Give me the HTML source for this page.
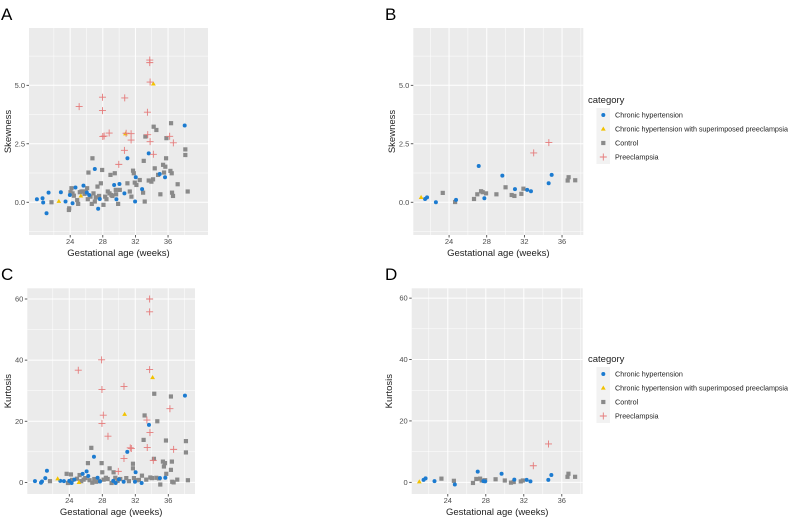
<!DOCTYPE html>
<html><head><meta charset="utf-8"><style>
body{margin:0;background:#fff;}
svg text{font-family:"Liberation Sans",Arial,sans-serif;}
</style></head><body>
<svg id="fig" width="789" height="519" xmlns="http://www.w3.org/2000/svg"></svg>
<script>
// ---- data (weeks, value) ----
const aPre=[[25.1,4.09],[27.96,4.49],[27.96,3.92],[28.0,2.81],[28.16,2.83],[28.78,2.96],[30.69,4.46],[30.65,2.22],[29.96,1.62],[30.86,2.95],[31.47,2.93],[31.47,2.66],[33.47,3.85],[33.51,2.89],[33.76,6.08],[33.76,5.97],[33.8,5.14],[33.8,2.59],[34.2,2.05],[36.2,2.82],[36.65,2.54]];
const aSup=[[22.61,0.04],[25.31,0.27],[30.78,2.93],[34.2,5.06]];
const aChr=[[19.92,0.13],[20.61,0.17],[20.69,-0.01],[21.1,-0.47],[21.35,0.41],[22.86,0.43],[23.43,0.03],[23.96,0.31],[24.29,-0.04],[24.65,0.63],[25.63,0.71],[26.04,0.41],[26.33,0.31],[27.02,1.42],[27.43,-0.28],[27.63,0.14],[29.39,0.74],[29.67,0.13],[30.04,0.78],[30.65,0.38],[31.02,1.88],[31.96,0.03],[32.04,1.07],[32.82,0.56],[33.63,2.09],[34.98,1.21],[35.63,1.07],[38.04,3.28]];
const aCtl=[[21.71,0],[23.84,-0.33],[23.88,-0.26],[24.04,0.43],[24.16,0.6],[24.29,0.38],[24.45,0.28],[24.86,0.09],[24.98,-0.07],[25.18,0.43],[25.39,0.46],[25.59,0.46],[25.76,0.36],[25.92,0.46],[26.08,0.6],[26.16,0.13],[26.24,1.27],[26.49,0.24],[26.65,-0.07],[26.73,1.88],[26.86,0.38],[27.02,0.03],[27.14,0.21],[27.35,0.67],[27.55,0.27],[27.76,0.81],[27.92,1.38],[28.08,-0.11],[28.29,0.24],[28.45,0.13],[28.61,0.46],[28.82,0.38],[28.94,1.17],[29.06,0.31],[29.18,0.27],[29.47,1.24],[29.59,0.53],[29.63,0.34],[29.88,-0.07],[30.08,0.53],[31.02,0.81],[31.31,0.46],[31.51,0.24],[31.71,1.35],[31.8,1.24],[31.92,0.84],[32.12,0.74],[32.53,0.95],[32.94,0.41],[33.02,1.77],[33.14,0.03],[33.22,2.81],[33.63,0.93],[33.96,0.88],[34.16,0.98],[34.24,3.23],[34.37,1.45],[34.57,3.09],[34.78,1.17],[35.06,0.34],[35.39,1.6],[35.51,1.27],[35.67,1.52],[35.76,1.88],[35.8,2.74],[36.29,1.34],[36.37,3.38],[36.45,1.24],[36.49,0.41],[36.61,0.27],[37.18,0.77],[38.12,2.26],[38.12,2.02],[38.41,0.46]];
const bPre=[[32.99,2.11],[34.6,2.55]];
const bSup=[[21.03,0.21]];
const bChr=[[21.45,0.14],[21.66,0.21],[22.6,0.0],[24.74,0.1],[27.15,1.55],[27.75,0.17],[29.66,1.14],[31.0,0.56],[32.3,0.53],[32.7,0.47],[34.58,0.81],[34.9,1.17]];
const bCtl=[[23.33,0.4],[24.64,0.01],[26.65,0.14],[27.0,0.34],[27.4,0.47],[27.57,0.43],[27.93,0.38],[29.03,0.34],[30.0,0.64],[30.65,0.31],[30.94,0.27],[31.68,0.36],[31.9,0.58],[36.6,0.93],[36.7,1.07],[37.4,0.94]];
const cPre=[[25.09,36.7],[27.92,40.1],[27.96,30.4],[28.12,22.0],[27.96,19.3],[28.69,15.1],[30.63,31.4],[30.63,7.8],[29.94,3.6],[31.39,11.3],[31.52,11.1],[33.41,20.4],[33.45,11.4],[33.74,60.0],[33.74,55.8],[33.74,36.9],[33.78,16.3],[34.18,7.2],[36.2,24.1],[36.65,10.8]];
const cSup=[[22.59,1.2],[25.17,0],[30.71,22.3],[34.1,34.3]];
const cChr=[[19.84,0.4],[20.57,-0.1],[20.69,0.3],[21.09,1.4],[21.29,3.8],[22.91,0.5],[23.35,0.4],[24.0,0.5],[24.28,-0.2],[24.61,0.9],[25.62,2.8],[26.1,3.6],[26.3,2.1],[26.99,8.4],[27.43,1.5],[27.72,0.3],[29.33,0.5],[29.62,-0.2],[30.02,1.0],[30.59,0.2],[31.03,10.0],[31.96,0.2],[32.04,3.3],[32.77,-0.2],[33.66,18.8],[34.99,1.4],[35.64,1.5],[38.02,28.4]];
const cCtl=[[21.66,0.4],[23.68,2.8],[23.84,-0.2],[24.2,2.6],[24.32,0.8],[24.93,1.2],[25.25,2.4],[25.45,0.4],[25.74,0.9],[25.94,1.4],[26.26,6.3],[26.46,0.7],[26.67,11.3],[26.79,-0.1],[27.03,1.1],[27.27,0.2],[27.6,0.5],[27.92,6.3],[28.0,3.3],[28.16,0.9],[28.44,1.5],[28.65,1.1],[28.89,4.6],[29.13,-0.2],[29.37,3.3],[29.58,1.5],[29.86,0.5],[30.18,1.1],[30.91,1.4],[31.23,0.4],[31.72,6.1],[31.72,4.6],[31.84,1.4],[32.2,0.7],[32.44,0.8],[32.81,2.2],[33.01,13.9],[33.13,21.9],[33.33,0.9],[33.82,1.6],[34.02,1.4],[34.26,7.7],[34.3,29.0],[34.55,1.5],[34.67,20.0],[34.87,1.3],[35.03,-0.7],[35.35,6.8],[35.47,5.2],[35.6,6.3],[35.72,13.7],[35.76,2.8],[36.32,4.1],[36.32,28.1],[36.44,6.8],[36.48,0.2],[36.65,0],[37.09,0.9],[38.14,13.5],[38.14,9.8],[38.38,0.7]];
const dPre=[[33.0,5.4],[34.6,12.5]];
const dSup=[[21.0,0.2]];
const dChr=[[21.45,0.8],[21.66,1.3],[22.6,0.4],[24.74,-0.7],[27.15,3.5],[27.75,0.4],[27.93,0.3],[29.66,2.8],[31.0,0.9],[32.3,0.8],[32.7,0.3],[34.58,0.8],[34.9,2.4]];
const dCtl=[[23.33,1.2],[24.64,0.5],[26.65,-0.2],[27.0,1.1],[27.4,1.2],[27.57,0.6],[27.93,0.7],[29.03,1.0],[30.0,0.6],[30.65,-0.1],[30.94,0.1],[31.68,0.3],[31.9,0.6],[36.6,1.8],[36.7,2.8],[37.4,1.8]];
const xTicks=[24,28,32,36];
const skewTicks=[0,2.5,5];
const skewLabels=["0.0","2.5","5.0"];
const kurtTicks=[0,20,40,60];
const kurtLabels=["0","20","40","60"];
const legendLabels=["Chronic hypertension","Chronic hypertension with superimposed preeclampsia","Control","Preeclampsia"];

const NS="http://www.w3.org/2000/svg";
const fig=document.getElementById('fig');
function mk(tag,attrs,parent){const e=document.createElementNS(NS,tag);for(const k in attrs)e.setAttribute(k,attrs[k]);(parent||fig).appendChild(e);return e;}
const COL={chr:"#1C7BD0",sup:"#F2C200",ctl:"#8A8A8A",pre:"#E57B7B"};

function marker(g,type,cx,cy){
  let e;
  if(type==='chr'){e=mk('circle',{cx:cx,cy:cy,r:2.0,fill:COL.chr},g);}
  else if(type==='sup'){e=mk('polygon',{points:`${cx},${cy-2.5} ${cx+2.4},${cy+1.6} ${cx-2.4},${cy+1.6}`,fill:COL.sup},g);}
  else if(type==='ctl'){e=mk('rect',{x:cx-2.1,y:cy-2.1,width:4.2,height:4.2,fill:COL.ctl},g);}
  else {e=mk('path',{d:`M${cx-3.5},${cy}H${cx+3.5}M${cx},${cy-3.5}V${cy+3.5}`,stroke:COL.pre,'stroke-width':0.9,fill:'none'},g);}
  return e;
}

function panel(p){
  const g=mk('g',{});
  
  
  const sx=v=>p.L+(v-p.x0)/(p.x1-p.x0)*(p.R-p.L);
  const sy=v=>p.B-(v-p.y0)/(p.y1-p.y0)*(p.B-p.T);
  const bg=mk('rect',{x:p.L,y:p.T,width:p.R-p.L,height:p.B-p.T,fill:'#EBEBEB'},g);
  
  
  const xm=[xTicks[0]-2].concat(xTicks.map(t=>t+2));
  xm.forEach(t=>{if(t>p.x0&&t<p.x1)mk('line',{x1:sx(t),x2:sx(t),y1:p.T,y2:p.B,stroke:'#fff','stroke-width':0.5},g);});
  const yt=p.yTicks, step=yt[1]-yt[0];
  const ym=[yt[0]-step/2].concat(yt.map(t=>t+step/2));
  ym.forEach(t=>{if(t>p.y0&&t<p.y1)mk('line',{x1:p.L,x2:p.R,y1:sy(t),y2:sy(t),stroke:'#fff','stroke-width':0.5},g);});
  xTicks.forEach(t=>{
    mk('line',{x1:sx(t),x2:sx(t),y1:p.T,y2:p.B,stroke:'#fff','stroke-width':1},g);
    mk('line',{x1:sx(t),x2:sx(t),y1:p.B,y2:p.B+2.5,stroke:'#333','stroke-width':0.8},g);
    const tl=mk('text',{x:sx(t),y:p.B+9,'font-size':7.5,fill:'#4D4D4D','text-anchor':'middle'},g);tl.textContent=t;
    
    
  });
  yt.forEach((t,i)=>{
    mk('line',{x1:p.L,x2:p.R,y1:sy(t),y2:sy(t),stroke:'#fff','stroke-width':1},g);
    mk('line',{x1:p.L-2.5,x2:p.L,y1:sy(t),y2:sy(t),stroke:'#333','stroke-width':0.8},g);
    const tl=mk('text',{x:p.L-4,y:sy(t)+2.6,'font-size':7.5,fill:'#4D4D4D','text-anchor':'end'},g);tl.textContent=p.yLabels[i];
    
    
  });
  const series=[['ctl',p.ctl],['chr',p.chr],['sup',p.sup],['pre',p.pre]];
  series.forEach(([k,arr])=>arr.forEach(d=>{
    const m=marker(g,k,sx(d[0]),sy(d[1]));
    
    
  }));
  const xl=mk('text',{x:(p.L+p.R)/2,y:p.B+21,'font-size':9.5,fill:'#222','text-anchor':'middle'},g);xl.textContent='Gestational age (weeks)';
  
  
  const yy=(p.T+p.B)/2;
  const yl=mk('text',{x:p.yx,y:yy,'font-size':9.5,fill:'#222','text-anchor':'middle',transform:`rotate(-90 ${p.yx} ${yy})`},g);yl.textContent=p.ylab;
  
  
  const lt=mk('text',{x:p.lx,y:p.ly,'font-size':17,fill:'#000'},g);lt.textContent=p.letter;
  
  
  if(p.leg){
    const lg=mk('g',{},g);
    
    
    const tt=mk('text',{x:588,y:p.leg+3,'font-size':9.5,fill:'#222'},lg);tt.textContent='category';
    ['chr','sup','ctl','pre'].forEach((k,i)=>{
      const y=p.leg+15+i*14;
      mk('rect',{x:596.5,y:y-7,width:13.5,height:14,fill:'#F2F2F2'},lg);
      marker(lg,k,603.3,y);
      const t=mk('text',{x:615,y:y+2.7,'font-size':7.2,fill:'#222',textLength:i===1?173:null},lg);t.textContent=legendLabels[i];
      if(i!==1)t.removeAttribute('textLength');
      
      
    });
  }
}
panel({name:'panel-a',letter:'A',lx:1,ly:20,L:29,R:208,T:28,B:235,x0:18.95,x1:40.9,y0:-1.4,y1:7.45,yTicks:skewTicks,yLabels:skewLabels,ylab:'Skewness',yx:11,pre:aPre,sup:aSup,chr:aChr,ctl:aCtl});
panel({name:'panel-b',letter:'B',lx:385,ly:20,L:413.3,R:583.3,T:28,B:235,x0:20.2,x1:38.26,y0:-1.4,y1:7.45,yTicks:skewTicks,yLabels:skewLabels,ylab:'Skewness',yx:395,pre:bPre,sup:bSup,chr:bChr,ctl:bCtl,leg:100});
panel({name:'panel-c',letter:'C',lx:1,ly:280,L:27.3,R:195,T:288.3,B:494,x0:18.91,x1:39.24,y0:-3.8,y1:63.5,yTicks:kurtTicks,yLabels:kurtLabels,ylab:'Kurtosis',yx:11,pre:cPre,sup:cSup,chr:cChr,ctl:cCtl});
panel({name:'panel-d',letter:'D',lx:385,ly:280,L:411.7,R:582.7,T:288.3,B:494,x0:20.2,x1:38.2,y0:-3.8,y1:63.2,yTicks:kurtTicks,yLabels:kurtLabels,ylab:'Kurtosis',yx:392,pre:dPre,sup:dSup,chr:dChr,ctl:dCtl,leg:359});
</script>
</body></html>
